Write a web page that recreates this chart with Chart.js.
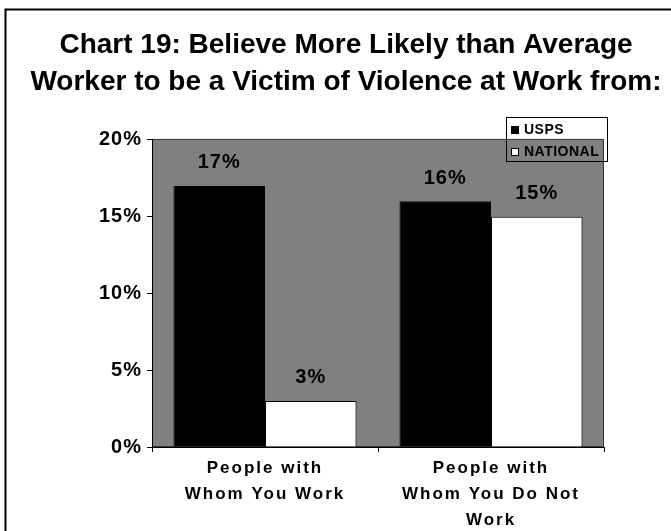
<!DOCTYPE html>
<html>
<head>
<meta charset="utf-8">
<title>Chart 19</title>
<script src="https://cdn.jsdelivr.net/npm/chart.js@4.4.1/dist/chart.umd.min.js"></script>
<style>
  html, body { margin: 0; padding: 0; background: #fff; }
  #wrap { position: relative; width: 671px; height: 531px; overflow: hidden; }
  #legend {
    position: absolute; left: 506px; top: 117px; width: 102px; height: 45px;
    box-sizing: border-box; border: 1px solid #000;
    font: bold 14px 'Liberation Sans', Arial, sans-serif; letter-spacing: 0.5px; color: #000;
  }
  #legend .row { height: 22px; line-height: 22px; white-space: nowrap; }
  #legend .box {
    display: inline-block; width: 8px; height: 8px; box-sizing: border-box;
    border: 1px solid #000; margin: 0 5px 0 4px;
  }
</style>
</head>
<body>
<div id="wrap">
  <canvas id="chart19" width="671" height="531"></canvas>
  <div id="legend"></div>
</div>
<script>
const FONT = "'Liberation Sans', Arial, sans-serif";

const categories = [['People with', 'Whom You Work'], ['People with', 'Whom You Do Not', 'Work']];
const seriesNames = ['USPS', 'NATIONAL'];
const uspsValues = [17, 16];
const nationalValues = [3, 15];
const yTicks = [0, 5, 10, 15, 20];

// canvas letterSpacing only on the axis labels, title stays normal
function spaced(scale, spacing) {
  if (!scale || scale._plainDrawLabels) return;
  scale._plainDrawLabels = scale.drawLabels;
  scale.drawLabels = function (area) {
    this.ctx.save();
    this.ctx.letterSpacing = spacing;
    this._plainDrawLabels(area);
    this.ctx.restore();
  };
}

const frame = {
  id: 'frame',
  beforeDraw(chart) {
    const { ctx, chartArea: a } = chart;
    ctx.save();
    ctx.fillStyle = '#808080';
    ctx.fillRect(a.left, a.top, a.width, a.height);
    ctx.strokeStyle = '#333';
    ctx.lineWidth = 1;
    ctx.strokeRect(a.left + 0.5, a.top - 0.5, a.width - 1, a.height);
    ctx.strokeStyle = '#000';
    ctx.lineWidth = 2;
    ctx.strokeRect(5.5, 9.5, 800, 800);
    ctx.restore();
    spaced(chart.scales.x, '2px');
    spaced(chart.scales.y, '1px');
  }
};

const valueLabels = {
  id: 'valueLabels',
  afterDatasetsDraw(chart) {
    const ctx = chart.ctx;
    ctx.save();
    ctx.font = 'bold 20px ' + FONT;
    ctx.letterSpacing = '1px';
    ctx.fillStyle = '#000';
    ctx.textAlign = 'center';
    ctx.textBaseline = 'middle';
    chart.data.datasets.forEach((ds, i) => {
      chart.getDatasetMeta(i).data.forEach((bar, j) => {
        ctx.fillText(ds.data[j] + '%', bar.x, bar.y - 23);
      });
    });
    ctx.restore();
  }
};

const chart = new Chart(document.getElementById('chart19'), {
  type: 'bar',
  data: {
    labels: categories,
    datasets: [
      { label: seriesNames[0], data: uspsValues, backgroundColor: '#000', borderColor: '#000', borderWidth: 1 },
      { label: seriesNames[1], data: nationalValues, backgroundColor: '#fff', borderColor: '#000', borderWidth: 1 }
    ]
  },
  options: {
    responsive: false,
    animation: false,
    devicePixelRatio: 1,
    categoryPercentage: 0.81,
    barPercentage: 1,
    // title gets the full width; the empty right axis keeps the plot clear of the edge
    layout: { padding: { left: 21, right: 0, top: 0, bottom: 0 } },
    scales: {
      x: {
        afterFit(scale) { scale.height = 84; },
        grid: { drawOnChartArea: false, color: '#000', tickLength: 5, offset: true },
        border: { color: '#000', width: 1 },
        ticks: {
          color: '#000',
          padding: 3,
          maxRotation: 0,
          font: { family: FONT, size: 17, weight: 'bold', lineHeight: 1.53 }
        }
      },
      y: {
        min: 0,
        max: 20,
        afterFit(scale) { scale.width = 131; },
        afterBuildTicks(scale) { scale.ticks = yTicks.map(v => ({ value: v })); },
        grid: { drawOnChartArea: false, color: '#000', tickLength: 5 },
        border: { color: '#000', width: 1 },
        ticks: {
          color: '#000',
          padding: 5,
          font: { family: FONT, size: 20, weight: 'bold' },
          callback: v => v + '%'
        }
      },
      gutter: {
        position: 'right',
        afterFit(scale) { scale.width = 67; },
        grid: { display: false },
        border: { display: false },
        ticks: { display: false }
      }
    },
    plugins: {
      legend: { display: false },
      tooltip: { enabled: false },
      title: {
        display: true,
        text: ['Chart 19: Believe More Likely than Average', 'Worker to be a Victim of Violence at Work from:'],
        color: '#000',
        font: { family: FONT, size: 28, weight: 'bold', lineHeight: 1.32 },
        padding: { top: 27, bottom: 39 }
      }
    }
  },
  plugins: [frame, valueLabels]
});

// legend built from the datasets
const legendEl = document.getElementById('legend');
chart.data.datasets.forEach(ds => {
  const row = document.createElement('div');
  row.className = 'row';
  const box = document.createElement('span');
  box.className = 'box';
  box.style.background = ds.backgroundColor;
  row.appendChild(box);
  row.appendChild(document.createTextNode(ds.label));
  legendEl.appendChild(row);
});
</script>
</body>
</html>
